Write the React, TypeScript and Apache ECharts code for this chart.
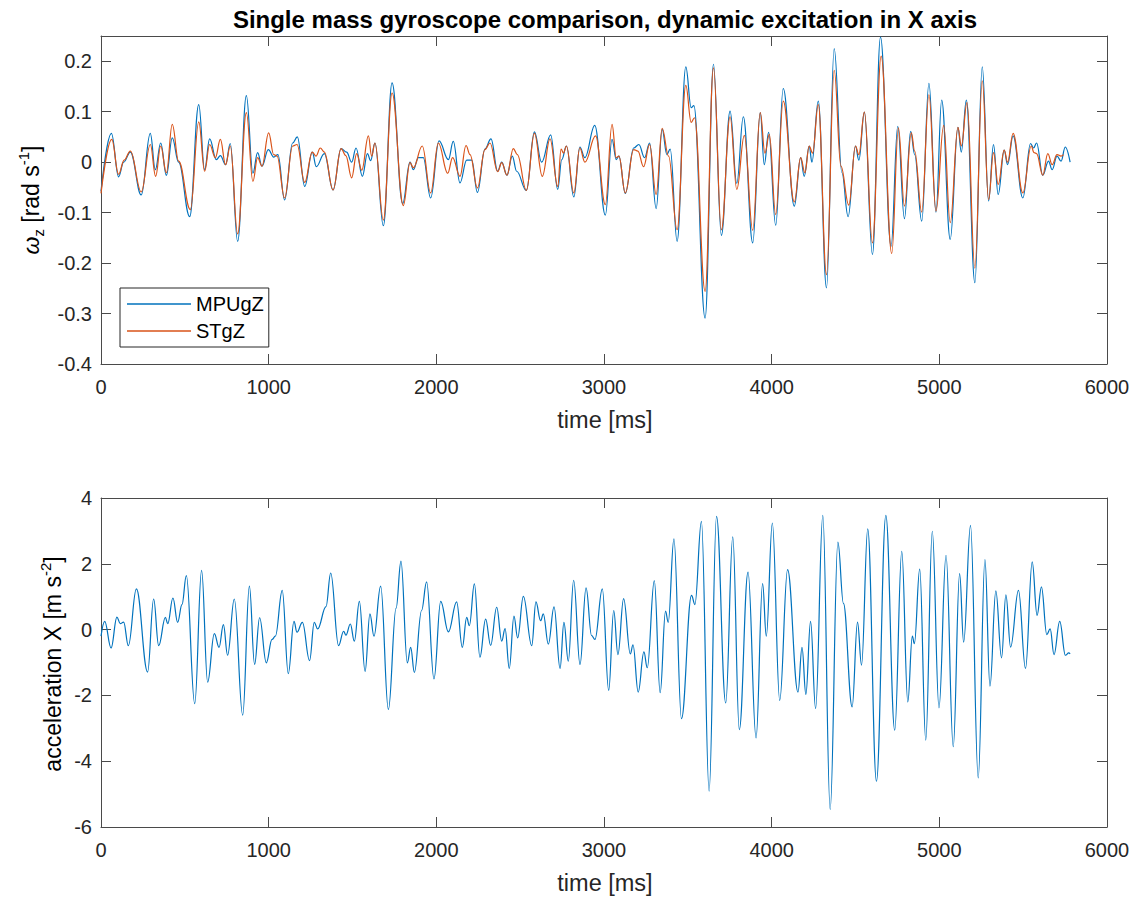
import React, { useEffect, useRef } from "react";
import * as echarts from "echarts";

// ---- data ----
const xTicks = [0, 1000, 2000, 3000, 4000, 5000, 6000];

// angular rate z [rad/s], MPU gyroscope
const mpuGz: [number, number][] = [
  [0, -0.058], [62, 0.057], [105, -0.029], [135, 0.0], [175, 0.02], [240, -0.065], [294, 0.057],
  [324, -0.015], [356, 0.038], [390, -0.026], [425, 0.048], [463, 0.0], [529, -0.108], [583, 0.114],
  [618, -0.015], [648, 0.046], [688, 0.005], [712, 0.013], [743, -0.005], [771, 0.037], [815, -0.157],
  [867, 0.132], [906, -0.022], [934, 0.019], [960, -0.008], [998, 0.025], [1030, 0.01], [1055, 0.015],
  [1095, -0.075], [1143, 0.038], [1171, 0.05], [1215, -0.048], [1260, 0.02], [1284, -0.009],
  [1332, 0.017], [1384, -0.055], [1432, 0.027], [1465, 0.02], [1495, 0.0], [1521, 0.028],
  [1559, -0.028], [1589, 0.017], [1608, 0.003], [1634, 0.038], [1684, -0.126], [1736, 0.157],
  [1799, -0.082], [1843, 0.0], [1863, -0.015], [1893, 0.009], [1922, 0.009], [1966, -0.071],
  [2016, 0.042], [2072, 0.005], [2101, 0.041], [2141, -0.041], [2181, 0.004], [2211, 0.004],
  [2245, -0.06], [2290, 0.026], [2326, 0.046], [2366, -0.018], [2390, 0.0], [2421, -0.026],
  [2453, 0.012], [2479, -0.018], [2537, -0.056], [2585, 0.06], [2628, 0.0], [2682, 0.054],
  [2724, -0.054], [2748, 0.005], [2776, 0.032], [2820, -0.069], [2856, 0.03], [2886, 0.009],
  [2945, 0.073], [3008, -0.105], [3048, 0.045], [3073, 0.005], [3089, 0.012], [3127, -0.062],
  [3177, 0.028], [3208, 0.035], [3242, 0.009], [3272, 0.038], [3311, -0.092], [3347, 0.065],
  [3375, 0.015], [3395, 0.026], [3436, -0.157], [3488, 0.189], [3520, 0.108], [3536, 0.112],
  [3603, -0.309], [3653, 0.194], [3700, -0.145], [3752, 0.101], [3792, -0.042], [3831, 0.09],
  [3887, -0.16], [3932, 0.098], [3956, -0.005], [3982, 0.059], [4024, -0.125], [4069, 0.146],
  [4135, -0.087], [4173, 0.009], [4194, -0.028], [4224, 0.032], [4240, 0.0], [4278, 0.121],
  [4327, -0.249], [4373, 0.225], [4419, -0.021], [4456, -0.108], [4500, 0.032], [4520, 0.004],
  [4553, 0.099], [4601, -0.183], [4649, 0.248], [4712, -0.167], [4752, 0.071], [4792, -0.112],
  [4829, 0.061], [4853, 0.015], [4895, -0.117], [4938, 0.156], [4980, -0.099], [5014, 0.123],
  [5065, -0.153], [5111, 0.069], [5131, 0.02], [5161, 0.123], [5212, -0.239], [5256, 0.189],
  [5294, -0.077], [5323, 0.035], [5351, -0.064], [5387, 0.024], [5407, -0.005], [5440, 0.052],
  [5498, -0.071], [5544, 0.037], [5562, 0.028], [5580, 0.038], [5617, -0.026], [5651, 0.002],
  [5673, -0.015], [5702, 0.012], [5726, 0.002], [5751, 0.03], [5780, 0.0],
];

// angular rate z [rad/s], ST gyroscope
const stGz: [number, number][] = [
  [0, -0.062], [64, 0.045], [105, -0.024], [138, 0.004], [175, 0.022], [240, -0.059], [294, 0.035],
  [326, -0.028], [356, 0.032], [390, -0.021], [425, 0.075], [463, 0.002], [533, -0.094], [583, 0.08],
  [618, -0.018], [648, 0.035], [682, 0.009], [712, 0.045], [743, -0.005], [771, 0.032], [815, -0.142],
  [867, 0.098], [906, -0.038], [934, 0.009], [960, -0.008], [1000, 0.058], [1030, 0.015], [1050, 0.012],
  [1095, -0.071], [1143, 0.032], [1169, 0.035], [1215, -0.04], [1260, 0.02], [1282, 0.012],
  [1308, 0.028], [1332, 0.02], [1384, -0.055], [1432, 0.027], [1460, 0.013], [1495, -0.031],
  [1525, 0.017], [1555, -0.016], [1595, 0.052], [1614, 0.012], [1634, 0.038], [1684, -0.115],
  [1736, 0.137], [1803, -0.086], [1843, -0.001], [1863, -0.011], [1916, 0.032], [1966, -0.061],
  [2012, 0.038], [2068, -0.022], [2097, 0.009], [2141, -0.028], [2177, 0.033], [2201, 0.015],
  [2245, -0.051], [2290, 0.025], [2320, 0.038], [2366, -0.019], [2390, -0.001], [2421, -0.026],
  [2459, 0.027], [2483, 0.015], [2537, -0.056], [2585, 0.057], [2632, -0.028], [2678, 0.046],
  [2724, -0.048], [2744, 0.026], [2758, 0.018], [2776, 0.032], [2820, -0.061], [2856, 0.028],
  [2886, 0.0], [2950, 0.052], [3008, -0.084], [3048, 0.075], [3073, 0.009], [3089, 0.012],
  [3127, -0.061], [3177, 0.025], [3202, 0.022], [3236, -0.009], [3272, 0.035], [3311, -0.064],
  [3347, 0.067], [3385, 0.012], [3436, -0.134], [3488, 0.152], [3520, 0.079], [3540, 0.088],
  [3603, -0.256], [3653, 0.187], [3700, -0.134], [3752, 0.09], [3792, -0.054], [3837, 0.053],
  [3887, -0.135], [3932, 0.098], [3960, 0.018], [3986, 0.055], [4024, -0.104], [4069, 0.121],
  [4135, -0.079], [4173, 0.009], [4198, -0.021], [4224, 0.032], [4244, 0.018], [4278, 0.114],
  [4327, -0.223], [4373, 0.182], [4413, -0.008], [4460, -0.085], [4500, 0.032], [4520, 0.015],
  [4553, 0.099], [4601, -0.16], [4653, 0.21], [4716, -0.181], [4756, 0.068], [4792, -0.087],
  [4833, 0.058], [4853, 0.022], [4895, -0.099], [4938, 0.134], [4980, -0.097], [5026, 0.073],
  [5065, -0.12], [5111, 0.069], [5131, 0.032], [5165, 0.118], [5212, -0.21], [5256, 0.161],
  [5294, -0.074], [5323, 0.019], [5351, -0.044], [5387, 0.024], [5407, 0.0], [5440, 0.057],
  [5498, -0.061], [5548, 0.032], [5565, 0.019], [5580, 0.017], [5617, -0.026], [5647, 0.017],
  [5673, -0.005], [5702, 0.015], [5726, 0.012], [5740, 0.015],
];

// acceleration X [m/s^2]
const accX: [number, number][] = [
  [0, -0.2], [22, 0.25], [60, -0.56], [95, 0.38], [115, 0.18], [135, 0.23], [163, -0.49], [211, 1.24],
  [278, -1.29], [314, 0.93], [344, -0.49], [384, 0.37], [398, 0.18], [429, 0.96], [457, 0.22],
  [483, 0.76], [509, 1.64], [559, -2.25], [600, 1.8], [636, -1.6], [676, -0.12], [704, -0.54],
  [730, 0.15], [755, -0.78], [795, 0.93], [845, -2.6], [885, 1.32], [916, -1.06], [946, 0.36],
  [986, -1.01], [1020, -0.3], [1040, -0.2], [1081, 1.19], [1117, -1.34], [1151, 0.25], [1169, -0.08],
  [1201, 0.22], [1244, -0.94], [1272, 0.22], [1292, 0.02], [1342, 0.7], [1370, 1.72], [1417, -0.49],
  [1447, -0.05], [1461, -0.17], [1487, 0.17], [1511, -0.35], [1541, 0.86], [1575, -1.27],
  [1604, 0.48], [1628, -0.2], [1668, 1.32], [1714, -2.43], [1760, 0.65], [1789, 2.08], [1827, -1.01],
  [1847, -0.54], [1869, -1.3], [1912, 0.58], [1942, 1.45], [1986, -1.5], [2026, 0.86], [2072, -0.07],
  [2121, 0.84], [2155, -0.54], [2181, 0.37], [2197, 0.12], [2227, 1.39], [2260, -0.84], [2294, 0.32],
  [2324, -0.48], [2360, 0.68], [2390, -0.35], [2410, 0.03], [2435, -1.18], [2463, 0.41],
  [2485, -0.25], [2519, 1.01], [2569, -0.49], [2594, 0.84], [2622, 0.27], [2638, 0.48],
  [2668, -0.44], [2702, 0.69], [2738, -1.18], [2761, 0.22], [2787, -0.96], [2819, 1.5],
  [2857, -1.06], [2893, 1.27], [2926, -0.18], [2946, -0.3], [2990, 1.24], [3028, -1.85],
  [3058, 0.58], [3083, -0.76], [3117, 0.94], [3157, -0.74], [3173, -0.46], [3204, -1.9],
  [3238, -0.68], [3258, -1.16], [3300, 1.49], [3335, -1.92], [3367, 0.56], [3383, 0.22],
  [3417, 2.76], [3462, -2.71], [3522, 1.04], [3542, 0.76], [3581, 3.29], [3627, -4.91],
  [3671, 3.44], [3726, -2.23], [3768, 2.82], [3807, -3.04], [3859, 1.75], [3907, -3.29],
  [3946, 1.4], [3968, -0.2], [4004, 3.24], [4048, -2.15], [4095, 1.82], [4157, -1.9],
  [4181, -0.54], [4204, -1.97], [4232, 0.25], [4262, -2.4], [4305, 3.47], [4349, -5.47],
  [4395, 2.66], [4428, 0.8], [4480, -2.35], [4512, 0.23], [4536, -1.08], [4573, 3.06],
  [4625, -4.61], [4681, 3.47], [4734, -3.06], [4776, 2.38], [4812, -2.2], [4839, -0.2],
  [4851, -0.43], [4883, 1.84], [4919, -3.36], [4958, 2.99], [4998, -2.38], [5040, 2.26],
  [5083, -3.56], [5121, 1.7], [5145, -0.38], [5186, 3.17], [5232, -4.51], [5272, 2.13],
  [5302, -1.72], [5337, 1.18], [5371, -0.86], [5397, 1.06], [5425, -0.53], [5472, 1.19],
  [5514, -1.18], [5554, 2.06], [5583, 0.43], [5609, 1.3], [5641, -0.15], [5661, 0.02],
  [5684, -0.76], [5718, 0.25], [5752, -0.78], [5772, -0.71], [5780, -0.74],
];

const FONT = "'Liberation Sans', Arial, Helvetica, sans-serif";
const TXT = "#262626";
const AXC = "#4a4a4a";
const BLUE = "#0072BD";
const ORANGE = "#D95319";

const plain = (v: number) => String(Math.round(v * 1000) / 1000);

function xAx(gridIndex: number, position: "top" | "bottom", labels: boolean) {
  return {
    type: "value",
    gridIndex,
    position,
    min: xTicks[0],
    max: xTicks[xTicks.length - 1],
    interval: xTicks[1] - xTicks[0],
    axisLine: { show: true, onZero: false, lineStyle: { color: AXC, width: 1 } },
    axisTick: { show: true, inside: true, length: 10, lineStyle: { color: AXC, width: 1 } },
    axisLabel: { show: labels, color: TXT, fontSize: 20, fontFamily: FONT, margin: 13, formatter: plain },
    splitLine: { show: false },
  };
}

function yAx(gridIndex: number, position: "left" | "right", labels: boolean, min: number, max: number, interval: number) {
  return {
    type: "value",
    gridIndex,
    position,
    min,
    max,
    interval,
    axisLine: { show: true, onZero: false, lineStyle: { color: AXC, width: 1 } },
    axisTick: { show: true, inside: true, length: 10, lineStyle: { color: AXC, width: 1 } },
    axisLabel: {
      show: labels,
      color: TXT,
      fontSize: 20,
      fontFamily: FONT,
      margin: 9,
      showMaxLabel: max === 4,
      formatter: plain,
    },
    splitLine: { show: false },
  };
}

const lineSeries = (name: string, data: [number, number][], color: string, xi: number, yi: number) => ({
  name,
  type: "line",
  xAxisIndex: xi,
  yAxisIndex: yi,
  data,
  symbol: "none",
  showSymbol: false,
  smooth: 0.4,
  smoothMonotone: "x",
  clip: true,
  lineStyle: { color, width: 1.2 },
  itemStyle: { color },
  emphasis: { disabled: true },
});

export default function App() {
  const ref = useRef<HTMLDivElement>(null);
  useEffect(() => {
    if (!ref.current) return;
    const chart = echarts.init(ref.current, undefined, { renderer: "svg" });
    const rich = {
      b: { fontSize: 23, fontFamily: FONT, color: TXT, lineHeight: 30 },
      w: { fontSize: 23, fontFamily: FONT, fontStyle: "italic", color: TXT, lineHeight: 30 },
      sub: { fontSize: 15, fontFamily: FONT, color: TXT, lineHeight: 14, verticalAlign: "bottom" },
      sup: { fontSize: 15, fontFamily: FONT, color: TXT, lineHeight: 15, verticalAlign: "top" },
    };
    chart.setOption({
      animation: false,
      backgroundColor: "#fff",
      grid: [
        { left: 101, right: 33, top: 36, height: 328 },
        { left: 101, right: 33, top: 498, height: 329 },
      ],
      xAxis: [xAx(0, "bottom", true), xAx(0, "top", false), xAx(1, "bottom", true), xAx(1, "top", false)],
      yAxis: [
        yAx(0, "left", true, -0.4, 0.25, 0.1),
        yAx(0, "right", false, -0.4, 0.25, 0.1),
        yAx(1, "left", true, -6, 4, 2),
        yAx(1, "right", false, -6, 4, 2),
      ],
      legend: {
        data: [
          { name: "MPUgZ", icon: "rect" },
          { name: "STgZ", icon: "rect" },
        ],
        orient: "vertical",
        left: 120,
        top: 288,
        itemWidth: 64,
        itemHeight: 1.3,
        itemGap: 7,
        padding: [6, 5, 6, 7],
        borderColor: "#262626",
        borderWidth: 1,
        backgroundColor: "#fff",
        textStyle: { color: "#000", fontSize: 20, fontFamily: FONT },
      },
      series: [
        lineSeries("MPUgZ", mpuGz, BLUE, 0, 0),
        lineSeries("STgZ", stGz, ORANGE, 0, 0),
        lineSeries("accX", accX, BLUE, 2, 2),
      ],
      graphic: [
        {
          type: "text",
          x: 605,
          y: 19,
          style: {
            text: "Single mass gyroscope comparison, dynamic excitation in X axis",
            font: `bold 24px ${FONT}`,
            fill: "#000",
            align: "center",
            verticalAlign: "middle",
          },
        },
        {
          type: "text",
          x: 605,
          y: 420,
          style: { text: "time [ms]", font: `23.5px ${FONT}`, fill: TXT, align: "center", verticalAlign: "middle" },
        },
        {
          type: "text",
          x: 605,
          y: 883,
          style: { text: "time [ms]", font: `23.5px ${FONT}`, fill: TXT, align: "center", verticalAlign: "middle" },
        },
        {
          type: "text",
          x: 31,
          y: 200,
          rotation: Math.PI / 2,
          style: {
            text: "{w|ω}{sub|z}{b| [rad s}{sup|-1}{b|]}",
            rich,
            align: "center",
            verticalAlign: "middle",
          },
        },
        {
          type: "text",
          x: 53,
          y: 664,
          rotation: Math.PI / 2,
          style: {
            text: "{b|acceleration X [m s}{sup|-2}{b|]}",
            rich,
            align: "center",
            verticalAlign: "middle",
          },
        },
      ],
    });
    return () => chart.dispose();
  }, []);
  return (
    <div
      ref={ref}
      style={{ position: "absolute", left: 0, top: 0, width: 1140, height: 902, background: "#fff" }}
    />
  );
}
